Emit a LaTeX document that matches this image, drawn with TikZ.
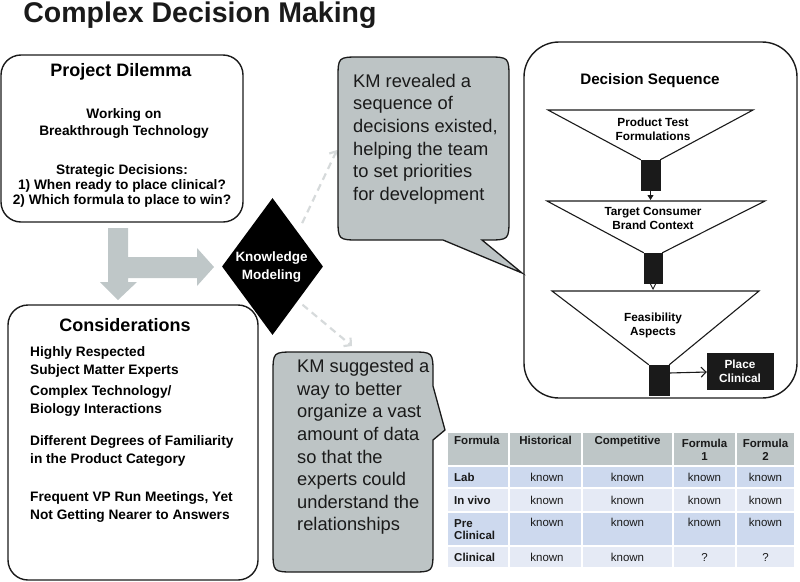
\documentclass[tikz,border=0pt]{standalone}
\usepackage{fontspec}
\setmainfont{Liberation Sans}
\usetikzlibrary{arrows.meta,shapes.geometric}
\definecolor{ink}{HTML}{1A1A1A}
\definecolor{callgray}{HTML}{BDC4C5}
\definecolor{arrgray}{HTML}{BFC7C8}
\definecolor{dashgray}{HTML}{D6DADB}
\definecolor{hdrgray}{HTML}{BEC6C7}
\definecolor{rowblue}{HTML}{CDD9EE}
\definecolor{rowlight}{HTML}{E5EAF5}
\tikzset{
  box/.style={draw=ink, line width=1.4pt, rounded corners=20pt},
  bighead/.style={font=\fontsize{18}{21}\selectfont\bfseries, inner sep=0pt},
  btxt/.style={font=\fontsize{13.7}{17}\selectfont\bfseries, align=center, inner sep=0pt},
  ltxt/.style={font=\fontsize{13.7}{18}\selectfont\bfseries, align=left, inner sep=0pt, anchor=west},
  calltxt/.style={font=\fontsize{18.3}{22.6}\selectfont, align=left, inner sep=0pt, anchor=west, text=ink},
  callshape/.style={fill=callgray, draw=ink, line width=1.3pt},
  funtxt/.style={font=\fontsize{11.8}{14}\selectfont\bfseries, align=center, inner sep=0pt},
  funline/.style={draw=ink, line width=1.1pt},
  blk/.style={fill=ink, draw=ink, inner sep=0pt},
  tabm/.style={font=\fontsize{11.5}{12.8}\selectfont\bfseries, inner sep=0pt, text=ink},
  tabb/.style={tabm, text height=8.5pt, text depth=2.5pt},
  tabr/.style={font=\fontsize{11.5}{13}\selectfont, inner sep=0pt, text=ink, text height=8.5pt, text depth=2.5pt},
  dasharrow/.style={draw=dashgray, line width=2.2pt, dash pattern=on 7pt off 5pt, -{Straight Barb[length=5pt,width=11pt]}}
}
\begin{document}
\begin{tikzpicture}[x=1pt,y=-1pt]
\useasboundingbox (0,0) rectangle (800,581);

% Title
\node[font=\fontsize{28.5}{30}\selectfont\bfseries, inner sep=0pt, text=ink] (title) at (200,15) {Complex Decision Making};

% Project Dilemma box
\node[box, minimum width=242pt, minimum height=167pt] (pd) at (122,138.5) {};
\node[bighead] (pdh) at (121,72) {Project Dilemma};
\node[btxt, font=\fontsize{13.7}{17}\selectfont\bfseries] (pd1) at (124,123.5) {Working on\\Breakthrough Technology};
\node[btxt, font=\fontsize{13.7}{15}\selectfont\bfseries] (pd2) at (122,186) {Strategic Decisions:\\1) When ready to place clinical?\\2) Which formula to place to win?};

% Gray arrows
\fill[arrgray] (108,228) -- (128,228) -- (128,257) -- (197,257) -- (197,248) -- (214,267) -- (197,286) -- (197,278) -- (128,278) -- (128,282) -- (137,282) -- (118,300) -- (100,282) -- (108,282) -- cycle;

% Considerations box
\node[box, minimum width=250pt, minimum height=275pt] (cons) at (133,442.5) {};
\node[bighead] (consh) at (125,325) {Considerations};
\node[ltxt] (c1) at (30,362) {Highly Respected\\Subject Matter Experts};
\node[ltxt] (c2) at (30,401) {Complex Technology/\\Biology Interactions};
\node[ltxt] (c3) at (30,451) {Different Degrees of Familiarity\\in the Product Category};
\node[ltxt] (c4) at (30,507) {Frequent VP Run Meetings, Yet\\Not Getting Nearer to Answers};

% Diamond
\node[diamond, fill=black, minimum width=101pt, minimum height=137pt, inner sep=0pt, aspect=0.74] (km) at (272.5,266.5) {};
\node[font=\fontsize{13.5}{18}\selectfont\bfseries, text=white, align=center, inner sep=0pt] (kmt) at (271.5,267) {Knowledge\\Modeling};

% dashed arrows
\coordinate (t1) at (337,150);
\coordinate (t2) at (352,346);
\draw[dasharrow, shorten <=10pt] (km.north east) -- (t1);
\draw[dasharrow, shorten <=6pt] (km.south east) -- (t2);

% Top callout
\path[callshape] (338,79) .. controls (338,57) .. (360,57) -- (487,57) .. controls (509,57) .. (509,79) -- (509,218) .. controls (509,240) .. (487,240) -- (482,240) -- (522,273) -- (443,240) -- (360,240) .. controls (338,240) .. (338,218) -- cycle;
\node[calltxt] (ct1) at (353,139) {KM revealed a\\sequence of\\decisions existed,\\helping the team\\to set priorities\\for development};

% Bottom callout
\path[callshape] (273,374) .. controls (273,352) .. (295,352) -- (411,352) .. controls (433,352) .. (433,374) -- (433,386) -- (445,430) -- (433,440) -- (433,550) .. controls (433,572) .. (411,572) -- (295,572) .. controls (273,572) .. (273,550) -- cycle;
\node[calltxt] (ct2) at (297,447) {KM suggested a\\way to better\\organize a vast\\amount of data\\so that the\\experts could\\understand the\\relationships};

% Decision Sequence box
\node[box, rounded corners=35pt, minimum width=273pt, minimum height=356pt] (ds) at (660.5,220) {};
\node[font=\fontsize{15.2}{18}\selectfont\bfseries, inner sep=0pt] (dsh) at (650,81) {Decision Sequence};

% Funnel 1
\node[blk, minimum width=19pt, minimum height=30pt] (r1) at (650.5,175) {};
\draw[funline] (r1.north west) -- (548,110) -- (753,110) -- (r1.north east);
\node[funtxt] (f1) at (653,129) {Product Test\\Formulations};
% Funnel 2
\coordinate (f2top) at (650.5,200);
\draw[-{Triangle[length=5pt,width=6pt]}, line width=1pt, ink] (r1.south) -- (f2top);
\node[blk, minimum width=18pt, minimum height=30pt] (r2) at (653,268) {};
\draw[funline] (r2.north west) -- (547,201) -- (765,201) -- (r2.north east);
\node[funtxt] (f2) at (653,218) {Target Consumer\\Brand Context};
% Funnel 3
\coordinate (f3top) at (653,290);
\draw[-{Triangle[open,length=7pt,width=7pt]}, line width=0.9pt, ink] (r2.south) -- (f3top);
\node[blk, minimum width=20pt, minimum height=30pt] (r3) at (659,380) {};
\draw[funline] (r3.north west) -- (552,291) -- (759,291) -- (r3.north east);
\node[funtxt] (f3) at (653,325.5) {Feasibility\\Aspects};
% Place Clinical
\node[blk, minimum width=66pt, minimum height=36pt, text=white, font=\fontsize{11.8}{14}\selectfont\bfseries, align=center] (pc) at (740,371) {Place\\Clinical};
\draw[-{Straight Barb[length=5pt,width=10pt]}, line width=1.1pt, ink] (r3.east |- 0,373) -- (pc.west |- 0,372);

% Table
\foreach \ya/\yb/\c in {432/466/hdrgray,466/488/rowblue,488/512/rowlight,512/546/rowblue,546/568/rowlight}
  \foreach \xa/\xb in {447/509,509/582,582/673,673/736,736/795}
    \fill[\c] (\xa+0.8,\ya+0.8) rectangle (\xb-0.8,\yb-0.8);

\node[tabb, anchor=west] (h0) at (454,441) {Formula};
\node[tabb] (h1) at (545.5,441) {Historical};
\node[tabb] (h2) at (627.5,441) {Competitive};
\node[tabm, align=center] (h3) at (704.5,449.5) {Formula\\1};
\node[tabm, align=center] (h4) at (765.5,449.5) {Formula\\2};

\node[tabb, anchor=west] (l1) at (454,478) {Lab};
\node[tabb, anchor=west] (l2) at (454,501) {In vivo};
\node[tabm, anchor=west, align=left] (l3) at (454,529.5) {Pre\\Clinical};
\node[tabb, anchor=west] (l4) at (454,558) {Clinical};

\foreach \r/\y in {1/478,2/501,3/523}
  \foreach \c/\x in {1/547,2/627.5,3/704.5,4/765.5}
    \node[tabr] (v\r\c) at (\x,\y) {known};
\node[tabr] (v41) at (547,558) {known};
\node[tabr] (v42) at (627.5,558) {known};
\node[tabr] (v43) at (704.5,558) {?};
\node[tabr] (v44) at (765.5,558) {?};
\end{tikzpicture}
\end{document}
